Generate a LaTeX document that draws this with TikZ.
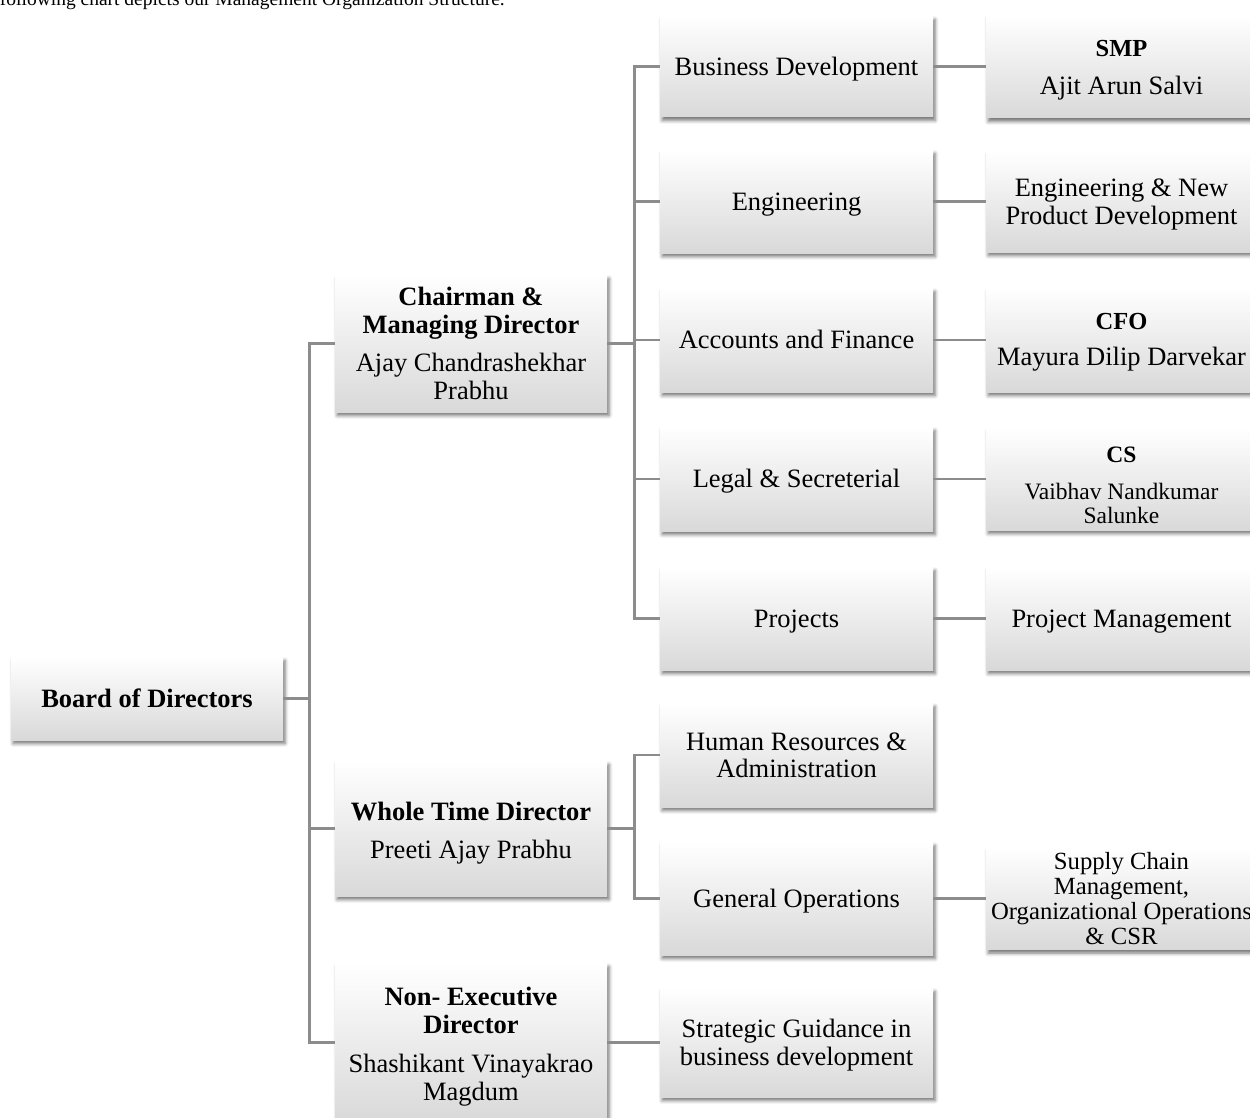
\documentclass[tikz,border=0pt]{standalone}
\usepackage{fontspec}
\setmainfont{Liberation Serif}
\usetikzlibrary{shadows.blur}
\newcommand{\mainfs}{\fontsize{26.5}{27.5}\selectfont}
\newcommand{\smallttl}[1]{{\fontsize{24.5}{27.5}\selectfont\bfseries #1}}
\newcommand{\wtop}{\rule{0pt}{0.891em}}
\newcommand{\wbot}{\rule[-0.216em]{0pt}{0.216em}}
\begin{document}
\begin{tikzpicture}[x=1pt,y=-1pt,
  orgbox/.style={top color=white, middle color=white!97!black, bottom color=black!15,
    align=center, inner sep=0pt, font=\mainfs,
    execute at begin node=\wtop, execute at end node=\wbot,
    blur shadow={shadow xshift=2pt, shadow yshift=-3.5pt, shadow blur radius=3.5pt, shadow opacity=55}},
  lvltwo/.style={orgbox, minimum width=272pt},
  lvlthree/.style={orgbox, minimum width=273pt},
  lvlfour/.style={orgbox, minimum width=271pt},
  conn/.style={draw=black!45, line width=2.6pt}]
\useasboundingbox (0,0) rectangle (1250,1118);

% cropped caption line at the top
\node[anchor=base east, inner sep=0pt, font=\fontsize{19.5}{22}\selectfont] (cap) at (505,6)
  {following chart depicts our Management Organization Structure.};

% level 1
\node[orgbox, minimum width=272pt, minimum height=83pt] (board) at (147,698.5)
  {\textbf{Board of Directors}};

% level 2
\node[lvltwo, minimum height=137pt] (chair) at (471,343.5)
  {\wtop\textbf{Chairman \&}\\\textbf{Managing Director}\\[11pt]Ajay Chandrashekhar\\Prabhu};
\node[lvltwo, minimum height=135pt] (wtd) at (471,828.5)
  {\rule{0pt}{28pt}\textbf{Whole Time Director}\\[10.5pt]Preeti Ajay Prabhu};
\node[lvltwo, minimum height=159pt] (ned) at (471,1042.5)
  {\rule{0pt}{27pt}\textbf{Non- Executive}\\\textbf{Director}\\[12pt]Shashikant Vinayakrao\\Magdum};

% level 3
\node[lvlthree, minimum height=101pt] (bd) at (796.5,66.5) {Business Development};
\node[lvlthree, minimum height=103pt] (eng) at (796.5,201.5) {Engineering};
\node[lvlthree, minimum height=104pt] (acc) at (796.5,340) {Accounts and Finance};
\node[lvlthree, minimum height=104pt] (leg) at (796.5,479) {Legal \& Secreterial};
\node[lvlthree, minimum height=103pt] (proj) at (796.5,618.5) {Projects};
\node[lvlthree, minimum height=104pt] (hr) at (796.5,755) {\wtop Human Resources \&\\Administration};
\node[lvlthree, minimum height=113pt] (gops) at (796.5,898.5) {General Operations};
\node[lvlthree, minimum height=109pt] (strat) at (796.5,1042.5) {\wtop Strategic Guidance in\\business development};

% level 4
\node[lvlfour, minimum height=103pt] (smp) at (1121.5,66.5)
  {\wtop\smallttl{SMP}\\[10.5pt]Ajit Arun Salvi};
\node[lvlfour, minimum height=101pt] (enpd) at (1121.5,201.5)
  {\wtop Engineering \& New\\Product Development};
\node[lvlfour, minimum height=104pt] (cfo) at (1121.5,340)
  {\rule{0pt}{21pt}\smallttl{CFO}\\[8pt]Mayura Dilip Darvekar};
\node[lvlfour, minimum height=102pt, font=\fontsize{23.5}{24}\selectfont] (cs) at (1121.5,479)
  {\rule{0pt}{33pt}\textbf{CS}\\[13pt]Vaibhav Nandkumar\\Salunke};
\node[lvlfour, minimum height=103pt] (pm) at (1121.5,618.5) {Project Management};
\node[lvlfour, minimum height=95pt, font=\fontsize{24.7}{25}\selectfont] (sc) at (1121.5,898.5)
  {\wtop Supply Chain\\Management,\\Organizational Operations\\\& CSR};

% connectors
\foreach \c in {chair,wtd,ned}
  \draw[conn] (board.east) -- ++(26,0) |- (\c.west);
\foreach \c in {bd,eng,acc,leg,proj}
  \draw[conn] (chair.east) -- ++(27,0) |- (\c.west);
\foreach \c in {hr,gops}
  \draw[conn] (wtd.east) -- ++(27,0) |- (\c.west);
\draw[conn] (ned.east) -- (strat.west);
\draw[conn] (bd.east) -- (smp.west);
\draw[conn] (eng.east) -- (enpd.west);
\draw[conn] (acc.east) -- (cfo.west);
\draw[conn] (leg.east) -- (cs.west);
\draw[conn] (proj.east) -- (pm.west);
\draw[conn] (gops.east) -- (sc.west);
\end{tikzpicture}
\end{document}
